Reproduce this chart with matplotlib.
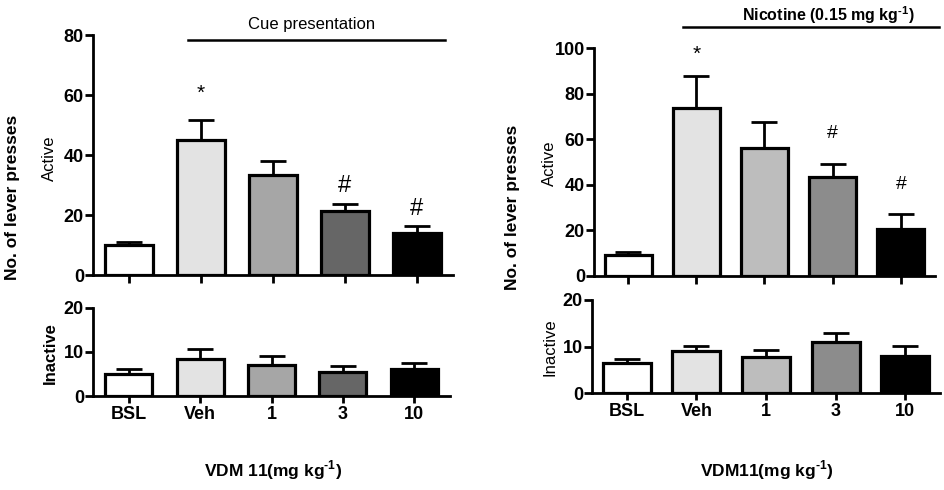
import matplotlib
matplotlib.use("Agg")
import matplotlib.pyplot as plt

plt.rcParams['font.family'] = ['Liberation Sans', 'DejaVu Sans']
plt.rcParams['mathtext.fontset'] = 'custom'
plt.rcParams['mathtext.rm'] = 'Liberation Sans'
plt.rcParams['mathtext.bf'] = 'Liberation Sans:bold'

categories = ['BSL', 'Veh', '1', '3', '10']

# Left panel (cue presentation)
cue_active = [10.0, 45.0, 33.3, 21.3, 14.1]
cue_active_sem = [1.1, 6.6, 4.8, 2.3, 2.2]
cue_inactive = [4.9, 8.4, 7.0, 5.5, 6.1]
cue_inactive_sem = [1.2, 2.2, 2.1, 1.3, 1.5]
cue_colors = ['#ffffff', '#e3e3e3', '#a6a6a6', '#666666', '#000000']

# Right panel (nicotine priming)
nic_active = [9.2, 73.6, 56.1, 43.3, 20.8]
nic_active_sem = [1.5, 14.2, 11.4, 5.7, 6.4]
nic_inactive = [6.4, 9.0, 7.7, 11.1, 8.0]
nic_inactive_sem = [0.9, 1.2, 1.6, 1.8, 2.2]
nic_colors = ['#ffffff', '#e3e3e3', '#bdbdbd', '#8c8c8c', '#000000']

W, H = 945, 490
fig = plt.figure(figsize=(W / 100, H / 100), dpi=100)

SUP = r'$^{\mathbf{\u2010 1}}$'.replace(r'\u2010 ', '\u2010')


def px_axes(x0, x1, ytop, ybot):
    return fig.add_axes([x0 / W, (H - ybot) / H, (x1 - x0) / W, (ybot - ytop) / H])


def style(ax, ymax, step, show_labels):
    ax.set_ylim(0, ymax)
    ax.set_xlim(-0.5, 4.5)
    ax.set_yticks(range(0, ymax + 1, step))
    for s in ['top', 'right']:
        ax.spines[s].set_visible(False)
    for s in ['left', 'bottom']:
        ax.spines[s].set_linewidth(2.0)
    ax.tick_params(axis='y', direction='out', length=6, width=2.0, labelsize=13, pad=0.5)
    for lab in ax.get_yticklabels():
        lab.set_fontweight('bold')
    ax.set_xticks(range(5))
    if show_labels:
        ax.tick_params(axis='x', direction='out', length=5, width=2.0, labelsize=13, pad=2)
        ax.set_xticklabels(categories, fontweight='bold')
    else:
        ax.tick_params(axis='x', direction='out', length=6, width=2.0, labelbottom=False)


def bars(ax, vals, sems, colors, width, capsize):
    x = list(range(len(vals)))
    ax.bar(x, vals, width=width, color=colors, edgecolor='black', linewidth=2.3, zorder=3)
    ax.errorbar(x, vals, yerr=[[0] * len(vals), sems], fmt='none', ecolor='black',
                elinewidth=2.0, capsize=capsize, capthick=2.0, zorder=2)


# ---- Left panel ----
axL = px_axes(93, 453, 35, 275)
bars(axL, cue_active, cue_active_sem, cue_colors, 0.67, 9.5)
style(axL, 80, 20, False)
axL.text(1, 60.5, '*', ha='center', va='center', fontsize=15)
axL.text(3, 29.5, '#', ha='center', va='center', fontsize=17)
axL.text(4, 22, '#', ha='center', va='center', fontsize=17)

axLb = px_axes(93, 450, 308, 396)
bars(axLb, cue_inactive, cue_inactive_sem, cue_colors, 0.66, 9.5)
style(axLb, 20, 10, True)

fig.text(13 / W, 1 - 197 / H, 'No. of lever presses', rotation=90, ha='center', va='center',
         fontsize=12.5, fontweight='bold')
fig.text(49 / W, 1 - 158 / H, 'Active', rotation=90, ha='center', va='center', fontsize=12)
fig.text(50 / W, 1 - 353 / H, 'Inactive', rotation=90, ha='center', va='center', fontsize=12,
         fontweight='bold')
fig.text(273 / W, 1 - 470 / H, 'VDM 11(mg kg' + SUP + ')', ha='center', va='center',
         fontsize=12.5, fontweight='bold')
fig.add_artist(plt.Line2D([188 / W, 445 / W], [1 - 40 / H, 1 - 40 / H], color='black', lw=1.8))
fig.text(312 / W, 1 - 24 / H, 'Cue presentation', ha='center', va='center', fontsize=12)

# ---- Right panel ----
axR = px_axes(594, 935, 48.3, 276)
bars(axR, nic_active, nic_active_sem, nic_colors, 0.69, 9.5)
style(axR, 100, 20, False)
axR.text(1, 97.5, '*', ha='center', va='center', fontsize=15)
axR.text(3, 62.5, '#', ha='center', va='center', fontsize=14)
axR.text(4, 40, '#', ha='center', va='center', fontsize=14)

axRb = px_axes(592, 940, 300, 393.3)
bars(axRb, nic_inactive, nic_inactive_sem, nic_colors, 0.69, 9.5)
style(axRb, 20, 10, True)

fig.text(512 / W, 1 - 207 / H, 'No. of lever presses', rotation=90, ha='center', va='center',
         fontsize=12.5, fontweight='bold')
fig.text(549 / W, 1 - 163 / H, 'Active', rotation=90, ha='center', va='center', fontsize=12)
fig.text(550 / W, 1 - 347 / H, 'Inactive', rotation=90, ha='center', va='center', fontsize=12)
fig.text(767 / W, 1 - 470 / H, 'VDM11(mg kg' + SUP + ')', ha='center', va='center',
         fontsize=12.5, fontweight='bold')
fig.add_artist(plt.Line2D([683 / W, 939 / W], [1 - 27 / H, 1 - 27 / H], color='black', lw=1.8))
fig.text(828 / W, 1 - 15 / H, 'Nicotine (0.15 mg kg' + SUP + ')', ha='center', va='center',
         fontsize=11.5, fontweight='bold')

fig.savefig('out.png', dpi=100)
